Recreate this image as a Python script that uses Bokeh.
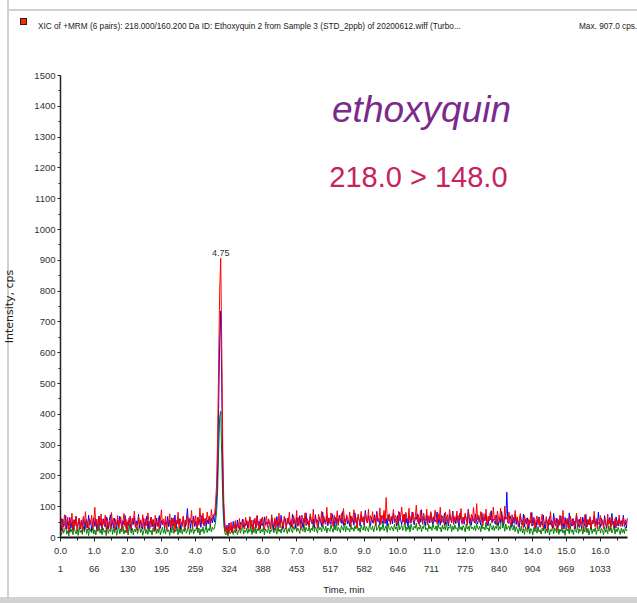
from bokeh.plotting import figure
from bokeh.models import Range1d, SingleIntervalTicker, LinearAxis, Label, Div
from bokeh.layouts import column
from bokeh.embed import file_html
from bokeh.resources import INLINE
import numpy as np

# ---------------- data (one point every 2 scans) ----------------
red = [
    # 0.0 - 4.56 min
    35, 62, 20, 51, 74, 28, 45, 66, 15, 58, 40, 79, 26, 55, 37, 70, 22, 48, 63, 31,
    57, 18, 69, 42, 84, 33, 52, 24, 61, 46, 72, 29, 54, 98, 38, 60, 21, 67, 44, 76,
    30, 56, 41, 73, 19, 64, 35, 50, 27, 81, 47, 62, 23, 58, 39, 71, 32, 53, 66, 25,
    49, 78, 36, 60, 17, 55, 43, 70, 28, 63, 51, 86, 34, 47, 22, 68, 40, 57, 30, 74,
    45, 26, 61, 38, 80, 52, 29, 66, 43, 58, 20, 72, 49, 35, 64, 27, 55, 90, 41, 60,
    33, 69, 24, 52, 46, 77, 31, 59, 38, 65, 18, 54, 43, 82, 29, 61, 48, 36, 70, 25,
    57, 40, 75, 30, 63, 50, 88, 34, 58, 45, 71, 27, 66, 39, 96, 52, 44, 79, 36, 62,
    48, 83, 55, 70, 42, 91, 60, 75,
    # peak
    70, 110, 170, 320, 560, 800, 907, 620, 280, 110, 45,
    # 4.9 - 16.8 min
    18, 35, 10, 42, 22, 50, 15, 38, 28, 55, 20, 44, 30, 62, 25, 48, 36, 58, 27, 65,
    40, 52, 29, 68, 35, 57, 22, 49, 63, 31, 72, 44, 26, 59, 38, 66, 47, 24, 55, 70,
    33, 61, 45, 28, 74, 50, 37, 64, 23, 56, 42, 79, 31, 60, 48, 35, 69, 52, 27, 63,
    46, 82, 39, 58, 30, 71, 54, 41, 88, 36, 65, 49, 25, 73, 57, 43, 80, 38, 62, 51,
    34, 77, 59, 45, 92, 40, 68, 53, 30, 75, 61, 47, 85, 38, 70, 56, 42, 98, 50, 64,
    44, 80, 57, 36, 72, 60, 48, 87, 39, 66, 53, 78, 45, 94, 58, 41, 74, 62, 50, 83,
    37, 69, 55, 90, 47, 64, 31, 76, 58, 45, 85, 52, 68, 40, 79, 60, 49, 92, 43, 71,
    57, 84, 46, 65, 38, 80, 62, 51, 96, 44, 73, 59, 88, 48, 130, 66, 54, 77, 42, 69,
    58, 91, 47, 72, 63, 40, 85, 55, 68, 99, 50, 76, 44, 82, 61, 53, 95, 46, 70, 59,
    81, 48, 67, 105, 52, 74, 39, 88, 60, 45, 79, 64, 55, 92, 41, 71, 58, 84, 49, 66,
    53, 89, 62, 44, 77, 57, 98, 47, 70, 61, 38, 83, 56, 74, 45, 91, 63, 50, 80, 42,
    68, 55, 86, 48, 72, 60, 94, 43, 66, 52, 79, 58, 40, 88, 65, 47, 75, 54, 97, 61,
    45, 110, 58, 73, 49, 84, 62, 38, 77, 56, 92, 44, 69, 53, 81, 60, 47, 99, 57, 72,
    41, 86, 63, 50, 95, 55, 70, 44, 102, 59, 66, 48, 83, 52, 38, 74, 60, 45, 88, 54,
    67, 35, 60, 78, 42, 55, 30, 72, 48, 63, 26, 58, 44, 81, 37, 52, 66, 29, 57, 70,
    40, 62, 33, 55, 76, 28, 50, 45, 68, 24, 59, 41, 84, 36, 53, 30, 65, 47, 22, 60,
    38, 72, 49, 27, 88, 43, 56, 34, 63, 45, 25, 70, 51, 37, 61, 29, 54, 79, 40, 58,
    32, 66, 44, 52, 23, 74, 48, 36, 59, 41, 68, 30, 57, 46, 85, 35, 62, 27, 50, 43,
    71, 38, 55, 29, 64, 47, 33, 76, 42, 58, 26, 67, 50, 39, 61, 31, 56, 45, 73, 36,
    52, 40, 65, 34, 58, 46, 62,
]

blue = [
    48, 22, 60, 35, 43, 71, 27, 54, 39, 65, 30, 50, 24, 58, 45, 68, 33, 41, 62, 28,
    52, 37, 66, 26, 47, 59, 31, 73, 40, 55, 21, 49, 64, 36, 57, 29, 45, 70, 38, 53,
    25, 61, 43, 34, 67, 48, 28, 56, 74, 39, 51, 30, 63, 44, 26, 58, 35, 69, 47, 32,
    55, 41, 72, 29, 50, 38, 64, 46, 23, 59, 42, 67, 33, 54, 40, 75, 31, 57, 44, 27,
    62, 36, 49, 70, 28, 53, 45, 66, 34, 58, 41, 24, 63, 47, 37, 71, 30, 55, 43, 60,
    29, 52, 40, 68, 35, 57, 26, 64, 48, 38, 73, 31, 56, 44, 61, 27, 50, 39, 66, 46,
    34, 58, 94, 42, 63, 30, 55, 47, 69, 36, 52, 28, 65, 45, 59, 33, 72, 48, 40, 61,
    37, 57, 44, 66, 39, 62, 48, 70,
    50, 80, 120, 220, 420, 640, 735, 500, 195, 80, 30,
    22, 40, 14, 47, 28, 35, 19, 52, 31, 44, 25, 57, 36, 29, 49, 41, 60, 33, 46, 38,
    55, 30, 48, 64, 36, 42, 27, 58, 45, 33, 70, 39, 52, 28, 61, 44, 35, 67, 40, 50,
    38, 57, 46, 31, 63, 49, 26, 59, 43, 68, 34, 52, 40, 72, 47, 29, 55, 62, 37, 48,
    64, 41, 53, 35, 76, 45, 58, 30, 66, 50, 39, 71, 43, 56, 33, 62, 48, 80, 42, 54,
    37, 69, 51, 44, 60, 32, 74, 47, 57, 40, 65, 53, 36, 82, 45, 59, 49, 70, 38, 63,
    52, 43, 77, 58, 35, 66, 48, 61, 41, 73, 55, 46, 84, 39, 60, 51, 68, 44, 57, 36,
    70, 49, 62, 40, 80, 54, 45, 67, 58, 37, 75, 50, 63, 42, 88, 56, 47, 71, 53, 39,
    65, 48, 59, 74, 43, 85, 52, 61, 40, 69, 55, 47, 78, 45, 62, 38, 73, 57, 50, 66,
    44, 79, 53, 60, 38, 71, 49, 82, 56, 42, 67, 51, 76, 46, 63, 35, 70, 58, 48, 83,
    54, 41, 66, 59, 77, 45, 62, 50, 90, 43, 68, 55, 39, 74, 52, 61, 47, 80, 57, 44,
    69, 51, 58, 83, 46, 64, 40, 72, 55, 49, 78, 42, 66, 53, 37, 75, 60, 48, 86, 50,
    62, 45, 71, 54, 39, 80, 57, 47, 65, 43, 74, 59, 50, 92, 46, 63, 41, 70, 55, 48,
    76, 52, 44, 67, 58, 40, 81, 49, 62, 54, 73, 45, 38, 69, 57, 87, 47, 60, 51, 43,
    72, 56, 39, 64, 48, 82, 53, 41, 68, 60, 147, 50, 45, 71, 58, 36, 66, 49, 77, 42,
    61, 47, 33, 70, 52, 40, 76, 35, 58, 45, 64, 30, 55, 48, 81, 37, 62, 43, 28, 57,
    46, 67, 34, 52, 39, 73, 44, 29, 60, 50, 36, 68, 42, 55, 31, 78, 47, 38, 63, 33,
    56, 41, 70, 35, 49, 27, 65, 44, 58, 32, 80, 46, 37, 61, 40, 53, 29, 72, 45, 36,
    59, 43, 30, 66, 48, 38, 75, 34, 57, 42, 63, 28, 51, 45, 70, 36, 54, 40, 82, 47,
    33, 62, 50, 38, 71, 44, 29, 58, 46, 65, 35, 78, 41, 53, 30, 67, 49, 37, 60, 43,
    55, 36, 72, 42, 50, 31, 64,
]

green = [
    20, 8, 31, 14, 26, 38, 11, 22, 5, 33, 17, 27, 9, 40, 19, 12, 29, 7, 35, 16,
    24, 10, 36, 18, 45, 13, 28, 6, 32, 21, 15, 39, 11, 25, 8, 34, 20, 42, 14, 27,
    9, 30, 17, 23, 6, 37, 13, 26, 19, 41, 10, 28, 16, 33, 7, 24, 36, 12, 29, 18,
    38, 11, 25, 15, 32, 8, 43, 20, 14, 30, 9, 27, 18, 35, 12, 23, 40, 16, 28, 7,
    21, 34, 13, 26, 10, 39, 17, 24, 8, 31, 19, 46, 12, 28, 15, 36, 9, 22, 33, 14,
    27, 11, 37, 18, 25, 7, 30, 16, 42, 13, 24, 20, 35, 9, 29, 15, 38, 11, 26, 19,
    32, 14, 23, 44, 10, 28, 17, 36, 12, 25, 21, 40, 15, 31, 8, 27, 19, 34, 13, 24,
    38, 16, 29, 22, 41, 18, 33, 26,
    30, 50, 80, 150, 280, 390, 410, 260, 110, 40, 15,
    8, 22, 5, 28, 12, 18, 33, 10, 25, 15, 36, 9, 20, 30, 14, 26, 40, 11, 23, 17,
    31, 13, 27, 19, 38, 10, 24, 16, 35, 12, 29, 21, 42, 14, 26, 18, 33, 9, 28, 22,
    16, 37, 12, 25, 20, 44, 15, 30, 23, 11, 34, 19, 27, 14, 39, 21, 17, 32, 25, 13,
    29, 18, 41, 22, 15, 35, 26, 47, 19, 31, 24, 13, 38, 28, 20, 45, 17, 33, 25, 21,
    36, 16, 30, 23, 50, 19, 34, 27, 14, 40, 25, 32, 18, 44, 29, 22, 37, 15, 31, 26,
    20, 42, 28, 17, 35, 24, 52, 21, 33, 27, 16, 39, 30, 23, 47, 19, 36, 25, 29, 18,
    43, 26, 32, 20, 38, 28, 55, 22, 31, 17, 40, 29, 24, 46, 21, 35, 27, 19, 42, 30,
    25, 37, 18, 33, 48, 23, 29, 41, 20, 34, 26, 52, 22, 30, 38, 17, 45, 28, 24, 36,
    31, 21, 43, 27, 35, 19, 50, 25, 32, 40, 23, 29, 57, 20, 34, 26, 39, 18, 44, 28,
    24, 37, 30, 46, 22, 33, 27, 41, 19, 36, 29, 53, 25, 31, 20, 42, 28, 35, 23, 48,
    30, 26, 38, 21, 45, 29, 33, 18, 40, 27, 36, 24, 51, 22, 34, 30, 43, 19, 37, 25,
    41, 28, 32, 20, 47, 26, 35, 23, 39, 31, 18, 44, 27, 36, 22, 49, 29, 33, 25, 38,
    21, 45, 30, 26, 37, 19, 42, 28, 34, 24, 50, 27, 31, 20, 46, 33, 25, 39, 22, 36,
    29, 48, 23, 35, 27, 85, 31, 40, 20, 44, 26, 33, 38, 22, 47, 29, 24, 41, 19, 35,
    26, 13, 32, 20, 38, 15, 28, 10, 35, 22, 17, 40, 12, 29, 24, 9, 33, 19, 27, 14,
    36, 18, 25, 11, 31, 21, 42, 13, 28, 16, 34, 8, 26, 20, 37, 12, 30, 23, 15, 39,
    10, 27, 19, 33, 14, 24, 7, 35, 21, 29, 12, 38, 17, 25, 9, 31, 22, 16, 40, 13,
    28, 20, 34, 11, 26, 18, 43, 15, 30, 8, 24, 36, 13, 27, 19, 32, 10, 25, 21, 37,
    14, 29, 23, 9, 35, 17, 26, 12, 39, 20, 31, 15, 24, 41, 11, 28, 18, 33, 22, 10,
    30, 16, 27, 13, 34, 21, 25,
]

time_ticks = [float(v) for v in range(0, 17)]
scan_labels = ["1", "66", "130", "195", "259", "324", "388", "453", "517",
               "582", "646", "711", "775", "840", "904", "969", "1033"]
peak_time = 4.75
peak_label = "4.75"
compound = "ethoxyquin"
transition = "218.0 > 148.0"
header = ("XIC of +MRM (6 pairs): 218.000/160.200 Da ID: Ethoxyquin 2 from Sample 3 "
          "(STD_2ppb) of 20200612.wiff (Turbo...")
max_text = "Max. 907.0 cps."

# ---------------- header strip ----------------
FONT = "Liberation Sans"
HEADER_H = 40
txt_css = ("position:absolute;top:20px;white-space:nowrap;font-family:'Liberation Sans';"
           "font-size:9.5px;line-height:11px;color:#222;transform:scaleX(0.867);"
           "transform-origin:0 50%;")
header_html = (
    f"<div style='position:relative;width:637px;height:{HEADER_H}px;'>"
    "<div style='position:absolute;left:7px;top:9px;width:630px;height:2px;background:#cfcfcf;'></div>"
    "<div style='position:absolute;left:20px;top:18px;width:7px;height:7px;"
    "background:#ff2a00;border:1px solid #222;'></div>"
    f"<div style=\"{txt_css}left:38px;\">{header}</div>"
    f"<div style=\"{txt_css}left:579px;\">{max_text}</div>"
    "</div>"
)
head = Div(text=header_html, width=637, height=HEADER_H, margin=0)

# ---------------- figure ----------------
p = figure(width=629, height=563, output_backend="svg", toolbar_location=None,
           x_range=Range1d(0, 16.81), y_range=Range1d(0, 1500),
           x_axis_type=None, y_axis_type=None, margin=0,
           min_border_left=59, min_border_right=2, min_border_top=35, min_border_bottom=66)
p.outline_line_color = None
p.background_fill_color = "white"
p.border_fill_color = None

yax = LinearAxis(ticker=SingleIntervalTicker(interval=100, num_minor_ticks=2),
                 axis_line_color="#222222", axis_line_width=1.5,
                 major_tick_in=0, major_tick_out=3, minor_tick_in=0, minor_tick_out=2,
                 major_tick_line_color="#222222", minor_tick_line_color="#222222",
                 major_label_text_font=FONT, major_label_text_font_size="9.5px",
                 major_label_text_color="#333333", major_label_standoff=2,
                 axis_label="Intensity, cps", axis_label_text_font="DejaVu Sans",
                 axis_label_text_font_size="11px", axis_label_text_font_style="normal",
                 axis_label_text_color="#222222", axis_label_standoff=15)
p.add_layout(yax, "left")

xax = LinearAxis(ticker=SingleIntervalTicker(interval=1, num_minor_ticks=2),
                 axis_line_color="#111111", axis_line_width=2,
                 major_tick_in=0, major_tick_out=4, minor_tick_in=0, minor_tick_out=3,
                 major_tick_line_color="#222222", minor_tick_line_color="#222222",
                 major_label_text_font=FONT, major_label_text_font_size="9.5px",
                 major_label_text_color="#333333", major_label_standoff=6,
                 major_label_overrides={t: f"{t:.1f}" for t in time_ticks})
p.add_layout(xax, "below")

xax2 = LinearAxis(ticker=SingleIntervalTicker(interval=1, num_minor_ticks=0),
                  axis_line_color=None, major_tick_line_color=None, minor_tick_line_color=None,
                  major_tick_in=0, major_tick_out=0,
                  major_label_text_font=FONT, major_label_text_font_size="9.5px",
                  major_label_text_color="#333333", major_label_standoff=9,
                  major_label_overrides={t: s for t, s in zip(time_ticks, scan_labels)},
                  axis_label="Time, min", axis_label_text_font=FONT,
                  axis_label_text_font_size="9.5px", axis_label_text_font_style="normal",
                  axis_label_text_color="#222222", axis_label_standoff=9)
p.add_layout(xax2, "below")

dt = peak_time / int(np.argmax(red))
for series, col in ((green, "#008000"), (blue, "#0000FF"), (red, "#FF0000")):
    t = np.arange(len(series)) * dt
    p.line(t, series, line_color=col, line_width=1)

p.add_layout(Label(x=peak_time, y=925, text=peak_label, text_align="center",
                   text_baseline="alphabetic", text_font=FONT, text_font_size="9px",
                   text_color="#333333"))
p.add_layout(Label(x=8.05, y=1390, text=compound, text_font="Liberation Sans",
                   text_font_style="italic", text_font_size="37px", text_color="#7B2A8C",
                   text_baseline="alphabetic"))
p.add_layout(Label(x=7.97, y=1172, text=transition, text_font="Liberation Sans",
                   text_font_size="29px", text_color="#C8235F", text_baseline="alphabetic"))

panel_bg = ("linear-gradient(to bottom, transparent 597px, #d2d2d2 597px), "
            "linear-gradient(to right, white 7px, #d0d0d0 7px, #d0d0d0 9px, white 9px)")
layout = column(head, p, spacing=0, margin=0, styles={"background": panel_bg})
open("out.html", "w").write(file_html(layout, INLINE))
